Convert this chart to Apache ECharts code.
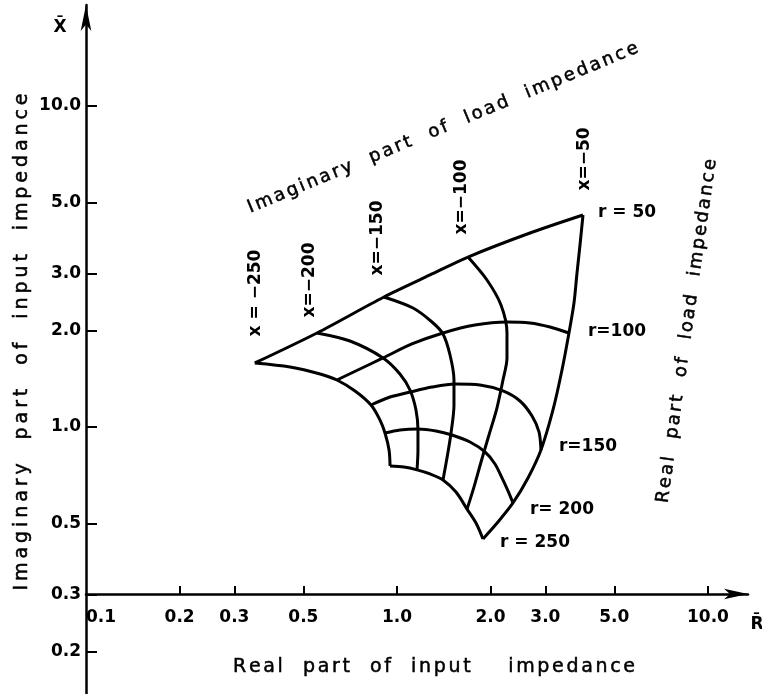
<!DOCTYPE html>
<html>
<head>
<meta charset="utf-8">
<script src="https://cdn.jsdelivr.net/npm/echarts@6/dist/echarts.min.js"></script>
<style>
  html, body { margin: 0; background: #fff; }
  #chart { width: 762px; height: 694px; }
</style>
</head>
<body>
<div id="chart"></div>
<script>
// input-impedance points [R, X], one list per load curve
const rLoad50 = [[0.349, 1.583], [0.553, 1.963], [0.908, 2.541], [1.277, 2.976], [1.692, 3.385], [2.677, 4.021], [3.964, 4.576]];
const rLoad100 = [[0.641, 1.401], [0.760, 1.516], [0.902, 1.641], [1.117, 1.814], [1.406, 1.963], [1.781, 2.078], [2.258, 2.124], [2.677, 2.109], [3.105, 2.049], [3.573, 1.963]];
const rLoad150 = [[0.825, 1.171], [0.950, 1.240], [1.101, 1.285], [1.296, 1.332], [1.537, 1.361], [1.849, 1.352], [2.192, 1.295], [2.486, 1.205], [2.718, 1.082], [2.862, 0.965], [2.904, 0.848]];
const rLoad200 = [[0.915, 0.958], [1.022, 0.979], [1.168, 0.986], [1.335, 0.972], [1.503, 0.944], [1.717, 0.898], [1.919, 0.836], [2.066, 0.767], [2.176, 0.694], [2.275, 0.632], [2.360, 0.580]];
const rLoad250 = [[0.950, 0.756], [1.053, 0.750], [1.160, 0.735], [1.277, 0.714], [1.406, 0.684], [1.548, 0.627], [1.680, 0.555], [1.795, 0.502], [1.890, 0.448]];

const xLoad250 = [[0.349, 1.583], [0.453, 1.538], [0.566, 1.463], [0.641, 1.401], [0.733, 1.295], [0.825, 1.171], [0.882, 1.051], [0.915, 0.958], [0.943, 0.848], [0.950, 0.756]];
const xLoad200 = [[0.553, 1.963], [0.706, 1.853], [0.902, 1.641], [1.022, 1.463], [1.101, 1.304], [1.151, 1.130], [1.168, 0.979], [1.168, 0.848], [1.160, 0.735]];
const xLoad150 = [[0.908, 2.541], [1.126, 2.348], [1.296, 2.124], [1.406, 1.949], [1.481, 1.676], [1.525, 1.401], [1.525, 1.171], [1.492, 0.958], [1.448, 0.800], [1.406, 0.684]];
const xLoad100 = [[1.692, 3.385], [1.947, 2.871], [2.160, 2.399], [2.258, 1.963], [2.258, 1.641], [2.192, 1.401], [2.096, 1.146], [1.976, 0.944], [1.863, 0.778], [1.768, 0.650], [1.680, 0.555]];
const xLoad50 = [[3.964, 4.576], [3.877, 3.690], [3.792, 3.018], [3.708, 2.434], [3.573, 1.963], [3.393, 1.505], [3.174, 1.130], [2.904, 0.848], [2.638, 0.694], [2.360, 0.580], [2.112, 0.506], [1.890, 0.448]];

const xTicks = [0.2, 0.3, 0.5, 1, 2, 3, 5, 10];
const xTickLabels = [0.1, 0.2, 0.3, 0.5, 1, 2, 3, 5, 10];
const yTicks = [0.2, 0.3, 0.5, 1, 2, 3, 5, 10];

const xCurveNames = ['x = \u2212250', 'x=\u2212200', 'x=\u2212150', 'x=\u2212100', 'x=\u221250'];
const rCurveNames = ['r = 50', 'r=100', 'r=150', 'r= 200', 'r = 250'];

const FONT = '"DejaVu Sans", sans-serif';
const INK = '#000';

const chart = echarts.init(document.getElementById('chart'));

const curves = [rLoad50, rLoad100, rLoad150, rLoad200, rLoad250, xLoad250, xLoad200, xLoad150, xLoad100, xLoad50];

function txt(text, x, y, size, rotDeg) {
  return {
    type: 'text',
    x: x,
    y: y,
    rotation: (rotDeg || 0) * Math.PI / 180,
    style: {
      text: text,
      font: 'bold ' + size + 'px ' + FONT,
      fill: INK,
      align: 'center',
      verticalAlign: 'middle'
    }
  };
}

// the scanned titles are letter-spaced; lay the letters out one by one to a given length
const measureCtx = document.createElement('canvas').getContext('2d');
function spacedTxt(text, cx, cy, size, rotDeg, length) {
  const font = size + 'px ' + FONT;
  measureCtx.font = font;
  const chars = text.split('');
  const widths = chars.map(c => measureCtx.measureText(c).width);
  const natural = widths.reduce((a, b) => a + b, 0);
  const gap = (length - natural) / (chars.length - 1);
  let pos = -length / 2;
  const children = chars.map((c, i) => {
    const el = {
      type: 'text',
      x: pos,
      y: 0,
      style: { text: c, font: font, fill: INK, align: 'left', verticalAlign: 'middle', stroke: INK, lineWidth: 0.5 }
    };
    pos += widths[i] + gap;
    return el;
  });
  return { type: 'group', x: cx, y: cy, rotation: rotDeg * Math.PI / 180, children: children };
}

// label spots in pixels
const xLabelPos = [[256, 293], [310, 280], [378, 238], [462, 197], [585, 159]];
const rLabelPos = [[627, 213], [617, 332], [588, 447], [562, 510], [535, 543]];

const graphics = [];
xCurveNames.forEach((t, i) => graphics.push(txt(t, xLabelPos[i][0], xLabelPos[i][1], 17, 90)));
rCurveNames.forEach((t, i) => graphics.push(txt(t, rLabelPos[i][0], rLabelPos[i][1], 17, 0)));
graphics.push(spacedTxt('Imaginary  part  of  load  impedance', 443, 128, 18, 22.5, 421));
graphics.push(spacedTxt('Real  part  of  load  impedance', 687, 331, 18, 82, 347));
graphics.push(spacedTxt('Imaginary  part  of  input  impedance', 22, 342, 19, 90, 497));
graphics.push(spacedTxt('Real  part  of  input    impedance', 434, 667, 19, 0, 402));
graphics.push(txt('X\u0304', 60, 28, 17, 0));
graphics.push(txt('R\u0304', 757, 625, 17, 0));

const option = {
  backgroundColor: '#fff',
  animation: false,
  grid: { left: 86, top: 5, width: 662, height: 689, containLabel: false },
  xAxis: {
    type: 'log',
    logBase: 10,
    min: 0.1,
    max: 13.45,
    position: 'bottom',
    offset: -100,
    axisLine: {
      lineStyle: { color: INK, width: 2.5 },
      symbol: ['none', 'arrow'],
      symbolSize: [8, 24]
    },
    axisTick: { inside: true, length: 8, lineStyle: { color: INK, width: 2 }, customValues: xTicks },
    minorTick: { show: false },
    axisLabel: {
      customValues: xTickLabels,
      formatter: v => Number(v).toFixed(1),
      color: INK,
      fontFamily: FONT,
      fontWeight: 'bold',
      fontSize: 17,
      margin: 15,
      alignMinLabel: 'left'
    },
    splitLine: { show: false }
  },
  yAxis: {
    type: 'log',
    logBase: 10,
    min: 0.1473,
    max: 20.64,
    axisLine: {
      lineStyle: { color: INK, width: 2.5 },
      symbol: ['none', 'arrow'],
      symbolSize: [8, 26]
    },
    axisTick: { inside: true, length: 11, lineStyle: { color: INK, width: 2 }, customValues: yTicks },
    minorTick: { show: false },
    axisLabel: {
      customValues: yTicks,
      formatter: v => Number(v).toFixed(1),
      color: INK,
      fontFamily: FONT,
      fontWeight: 'bold',
      fontSize: 17,
      margin: 5
    },
    splitLine: { show: false }
  },
  series: curves.map(d => ({
    type: 'line',
    data: d,
    smooth: 0.3,
    showSymbol: false,
    lineStyle: { color: INK, width: 3 }
  })),
  graphic: graphics
};

chart.setOption(option);
</script>
</body>
</html>
